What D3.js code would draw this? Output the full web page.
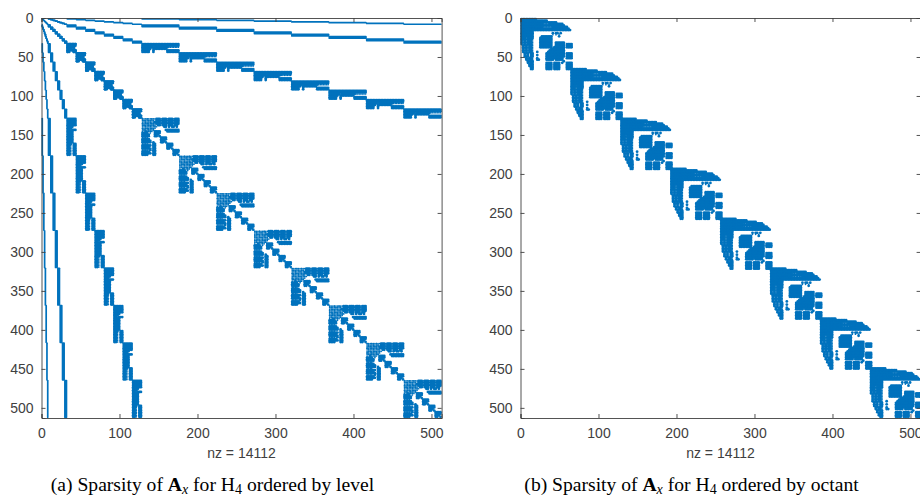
<!DOCTYPE html>
<html>
<head>
<meta charset="utf-8">
<script src="https://cdn.jsdelivr.net/npm/d3@7"></script>
<style>
  html, body { margin: 0; padding: 0; background: #fff; }
  svg { display: block; }
</style>
</head>
<body>
<svg id="chart" width="920" height="495"></svg>
<script>
// matrix layout
const matrixSize = 513;
const xTicks = [0, 100, 200, 300, 400, 500];
const yTicks = [0, 50, 100, 150, 200, 250, 300, 350, 400, 450, 500];
const nzLabel = "nz = 14112";

// eight octants, four refinement levels
const octants = [0, 1, 2, 3, 4, 5, 6, 7];
const levelStarts = [0, 8, 32, 128];
const levelSizes = [1, 3, 12, 48];
const octantStarts = [0, 64, 128, 192, 256, 320, 384, 448];
const arrowOffsets = [8, 12, 16, 20];

// one octant of panel (b), one character = 2 rows/cols
// # = full marker, o = thin marker (hatching and the light gaps)
const octantPattern = [
  "##########",
  "#################",
  "#######################",
  "##############oooo#########",
  "############################",
  "##############oooooo##########",
  "###############################",
  "################################",
  "########",
  "########............#.##.#",
  "########............o.o.o",
  "###o####.....#######....#",
  "###o####....########",
  "###o###o....########",
  "#o#o###o....########..",
  "#o#o###o....########..######",
  "#o#o###o....########..######.####",
  ".#o#o##o....########..######.####",
  ".#o#o##o....########.#######.####",
  ".#o#o##o...........#########",
  ".#o#o##o..........##########",
  ".#o#o##o..#......###########",
  "..#o#.##........############.####",
  "..#o#.##..#.....############.####",
  "..#o#.##........############.####",
  "...#o##o..#.....###########..####",
  "...#o##o..##....#####.#####",
  "....#o##...................#",
  "....#o##........####.####.#..####",
  ".....###........####.####....####",
  ".....###........####.####....####",
  "......##........####.####....####",
  "......##........####.####....####"
];

// level 3 with level 3 in panel (a): top rows, mirrored below the diagonal
const fineFinePattern = [
  "oo.oo.oo.###o###o###o###",
  ".oo.oo.o.###o###o###o###",
  "o.oo.oo.####o###o###o###",
  "oo.oo.oo.###o###o###o###",
  ".oo.oo.oo.##.###.###.##",
  "o.oo.oo.oo....##.#.##.#",
  "oo.oo.oo........",
  ".oo.oo.o.......#########",
  "o.oo.oo.oo......########"
];
const arrowPattern = [
  "####",
  "####",
  "###.",
  "##.#"
];
// level 2 with level 3
const midFinePattern = [
  "########################",
  "########################",
  "#######o#########ooooooo",
  "######.#########........",
  "#####..#........########",
  "#####..#........########"
];
// level 2 with itself
const midMidPattern = [
  "######",
  "######",
  "#####.",
  "###.#.",
  "##.###",
  "#...##"
];

const markColor = "#0072BD";
const axisColor = "#404040";
const markerRadius = { "#": 1.4, "o": 0.85 };

const svg = d3.select("#chart");

function drawPanel(left, top, caption, cells, solids) {
  const x = d3.scaleLinear().domain([0, matrixSize]).range([left, left + 400.1]);
  const y = d3.scaleLinear().domain([0, matrixSize]).range([top, top + 400]);
  const g = svg.append("g");

  g.append("g").selectAll("rect")
    .data(solids)
    .join("rect")
    .attr("x", d => x(d.c0 + 1) - 0.85)
    .attr("y", d => y(d.r0 + 1) - 0.85)
    .attr("width", d => x(d.c1) - x(d.c0 + 1) + 1.7)
    .attr("height", d => y(d.r1) - y(d.r0 + 1) + 1.7)
    .attr("rx", 0.85)
    .attr("fill", markColor);

  g.append("g").selectAll("circle")
    .data(cells)
    .join("circle")
    .attr("cx", d => x(d.c + 1.5))
    .attr("cy", d => y(d.r + 1.5))
    .attr("r", d => markerRadius[d.ch])
    .attr("fill", markColor);

  const axes = [
    d3.axisLeft(y).tickValues(yTicks).tickSize(-4).tickPadding(8),
    d3.axisRight(y).tickValues(yTicks).tickSize(-4).tickFormat(""),
    d3.axisTop(x).tickValues(xTicks).tickSize(-4).tickFormat(""),
    d3.axisBottom(x).tickValues(xTicks).tickSize(-4).tickPadding(10)
  ];
  const shifts = [
    [left, 0], [left + 400.1, 0], [0, top], [0, top + 400]
  ];
  axes.forEach((axis, i) => {
    const a = g.append("g")
      .attr("transform", `translate(${shifts[i][0]},${shifts[i][1]})`)
      .call(axis);
    a.selectAll("path,line").attr("stroke", axisColor).attr("stroke-width", 0.9);
    a.selectAll("text")
      .attr("fill", axisColor)
      .attr("font-family", "'Liberation Sans', sans-serif")
      .attr("font-size", 14);
  });

  g.append("text")
    .attr("x", left + 200)
    .attr("y", 458)
    .attr("text-anchor", "middle")
    .attr("fill", axisColor)
    .attr("font-family", "'Liberation Sans', sans-serif")
    .attr("font-size", 14)
    .text(nzLabel);

  const cap = g.append("text")
    .attr("x", left + 171)
    .attr("y", 491)
    .attr("text-anchor", "middle")
    .attr("fill", "#000")
    .attr("font-family", "'Liberation Serif', serif")
    .attr("font-size", 19.6);
  cap.append("tspan").text(`(${caption[0]}) Sparsity of `);
  cap.append("tspan").attr("font-weight", "bold").text("A");
  cap.append("tspan").attr("font-style", "italic").attr("font-size", 14).attr("dy", 2.5).text("x");
  cap.append("tspan").attr("dy", -2.5).text(" for H");
  cap.append("tspan").attr("font-size", 14).attr("dy", 2.5).text("4");
  cap.append("tspan").attr("dy", -2.5).text(` ordered by ${caption[1]}`);
}

// turn a bitmap into matrix cells, each character covering `step` rows/cols
function cellsFrom(pattern, r0, c0, step, mirror) {
  const out = [];
  pattern.forEach((row, i) => {
    [...row].forEach((ch, j) => {
      if (ch === ".") return;
      out.push({ r: r0 + i * step, c: c0 + j * step, ch });
      if (mirror) out.push({ r: r0 + j * step, c: c0 + i * step, ch });
    });
  });
  return out;
}

// panel (a)
const levelCells = [];
const levelSolids = [];
octants.forEach(k => {
  const start = levelStarts.map((s, i) => s + levelSizes[i] * k);
  // the two coarse levels are solid runs, in both triangles
  [0, 1].forEach(a => {
    [0, 1, 2, 3].forEach(b => {
      const run = {
        r0: start[a], r1: start[a] + levelSizes[a],
        c0: start[b], c1: start[b] + levelSizes[b]
      };
      levelSolids.push(run);
      levelSolids.push({ r0: run.c0, r1: run.c1, c0: run.r0, c1: run.r1 });
    });
  });
  levelCells.push(...cellsFrom(midMidPattern, start[2], start[2], 2, true));
  midFinePattern.forEach((row, i) => {
    [...row].forEach((ch, j) => {
      if (ch === ".") return;
      levelCells.push({ r: start[2] + i * 2, c: start[3] + j * 2, ch });
      levelCells.push({ r: start[3] + j * 2, c: start[2] + i * 2, ch });
    });
  });
  levelCells.push(...cellsFrom(fineFinePattern, start[3], start[3], 2, true));
  arrowOffsets.forEach(o => {
    levelCells.push(...cellsFrom(arrowPattern, start[3] + o * 2, start[3] + o * 2, 2, false));
  });
});

// panel (b)
const octantCells = [];
octantStarts.forEach(s => {
  octantCells.push(...cellsFrom(octantPattern, s, s, 2, false)
    .filter(d => d.r < 512 && d.c < 512));
});

drawPanel(41.5, 18, ["a", "level"], levelCells, levelSolids);
drawPanel(520.5, 18, ["b", "octant"], octantCells, []);
</script>
</body>
</html>
